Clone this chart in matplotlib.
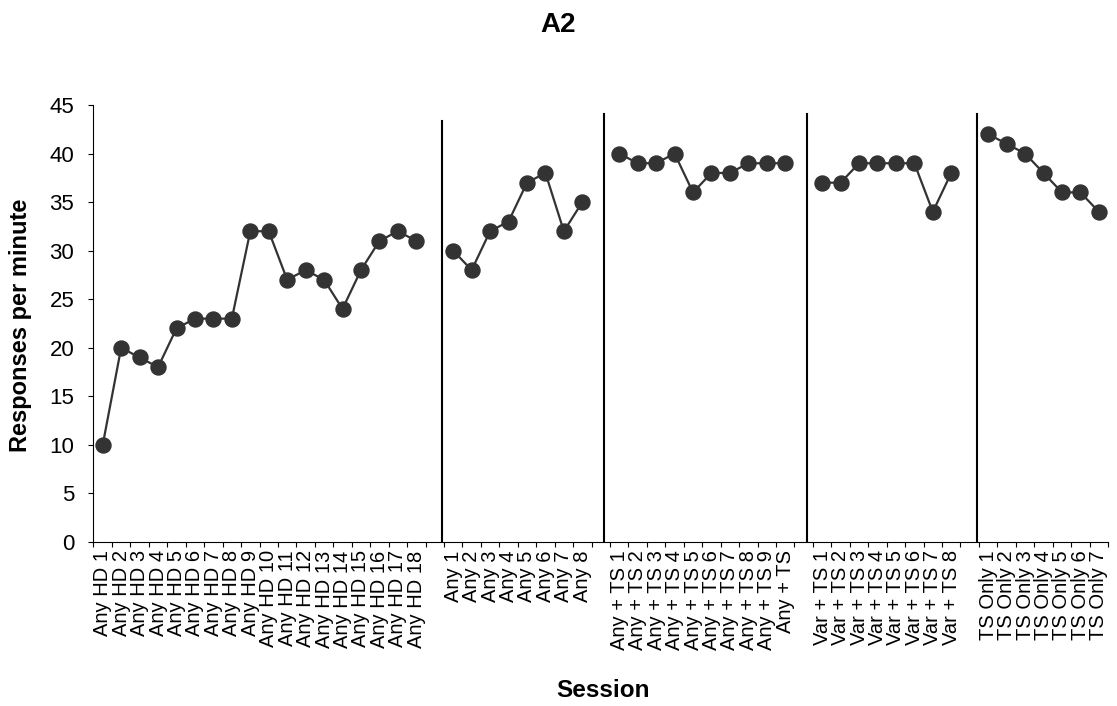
import numpy as np
import matplotlib
matplotlib.use("Agg")
import matplotlib.pyplot as plt
from matplotlib.ticker import FixedLocator, NullFormatter

plt.rcParams['font.family'] = ['Liberation Sans', 'DejaVu Sans']

# Session labels per phase
any_hd_labels = [f"Any HD {i}" for i in range(1, 19)]
any_labels = [f"Any {i}" for i in range(1, 9)]
any_ts_labels = [f"Any + TS {i}" for i in range(1, 10)] + ["Any + TS"]
var_ts_labels = [f"Var + TS {i}" for i in range(1, 9)]
ts_only_labels = [f"TS Only {i}" for i in range(1, 8)]

# Responses per minute per phase
any_hd_values = [10, 20, 19, 18, 22, 23, 23, 23, 32, 32, 27, 28, 27, 24, 28, 31, 32, 31]
any_values = [30, 28, 32, 33, 37, 38, 32, 35]
any_ts_values = [40, 39, 39, 40, 36, 38, 38, 39, 39, 39]
var_ts_values = [37, 37, 39, 39, 39, 39, 34, 38]
ts_only_values = [42, 41, 40, 38, 36, 36, 34]

phase_labels = [any_hd_labels, any_labels, any_ts_labels, var_ts_labels, ts_only_labels]
phase_values = [any_hd_values, any_values, any_ts_values, var_ts_values, ts_only_values]

# Build one categorical axis with an empty slot between phases
labels = []
values = []
for i, (lab, val) in enumerate(zip(phase_labels, phase_values)):
    if i > 0:
        labels.append("")
        values.append(np.nan)
    labels.extend(lab)
    values.extend(val)
x = np.arange(len(labels))
values = np.array(values, dtype=float)

# Phase-change lines (category position, top value)
phase_line_x = [18.41, 27.17, 38.17, 47.4]
phase_line_top = [43.3, 44.1, 44.1, 44.1]

fig = plt.figure(figsize=(11.17, 7.06), dpi=100)
ax = fig.add_axes([0.0837, 0.2323, 0.992 - 0.0837, 0.8513 - 0.2323])

ax.plot(x, values, color='#333333', lw=1.6, marker='o', markersize=10.8,
        markerfacecolor='#333333', markeredgecolor='#333333', zorder=3)

for px, top in zip(phase_line_x, phase_line_top):
    ax.plot([px, px], [0, top], color='black', lw=1.5, zorder=2)

ax.set_xlim(-0.5, len(labels) - 0.5)
ax.set_ylim(0, 45)
ax.set_yticks(np.arange(0, 46, 5))
ax.tick_params(axis='y', labelsize=16, length=3.8, width=0.8, direction='out', pad=10)

ax.set_xticks(x)
ax.set_xticklabels(labels, rotation=90, fontsize=14.5)
ax.xaxis.set_minor_locator(FixedLocator(np.arange(len(labels) + 1) - 0.5))
ax.xaxis.set_minor_formatter(NullFormatter())
ax.tick_params(axis='x', which='major', length=0, pad=6)
ax.tick_params(axis='x', which='minor', length=3.8, width=0.8, direction='out')

for side in ('top', 'right'):
    ax.spines[side].set_visible(False)
for side in ('left', 'bottom'):
    ax.spines[side].set_linewidth(0.8)
    ax.spines[side].set_color('black')

fig.text(0.5, 0.955, "A2", ha='center', va='baseline', fontsize=20, fontweight='bold')
fig.text(603 / 1117, 0.0123, "Session", ha='center', va='baseline', fontsize=17.5, fontweight='bold')
fig.text(21 / 1117, 1 - 325 / 706, "Responses per minute", ha='center', va='center',
         rotation=90, fontsize=17, fontweight='bold')

fig.savefig("out.png", dpi=100)
